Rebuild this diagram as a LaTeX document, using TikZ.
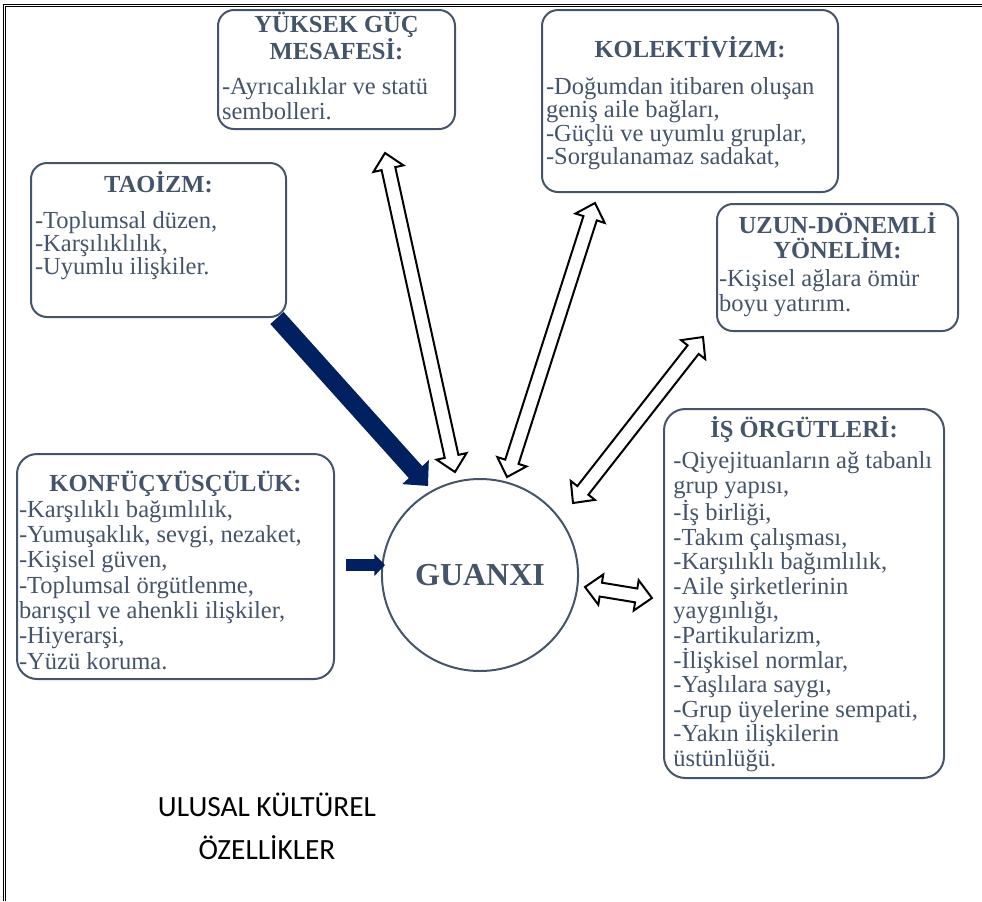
\documentclass[tikz,border=0pt]{standalone}
\usepackage{fontspec}
\setmainfont{Liberation Serif}
\newfontfamily\labelfont{Carlito}
\usetikzlibrary{calc,arrows.meta,positioning,shapes.geometric}

\definecolor{slate}{HTML}{44546A}
\definecolor{navyblue}{HTML}{002060}

\newcommand{\headlen}{12pt}
\newcommand{\headhalf}{11.5pt}
\newcommand{\shafthalf}{5.25pt}
% centred bold title, #1 = distance from box top to first baseline
\newcommand{\boxtitle}[2]{{\centering\bfseries\rule{0pt}{#1}#2\par}}
% hollow double arrow between two named coordinates
\newcommand{\hollowarrow}[2]{%
  \coordinate (h1) at ($(#1)!\headlen!(#2)$);
  \coordinate (h2) at ($(#2)!\headlen!(#1)$);
  \draw[hollow] (#1) -- ($(h1)!\headhalf!90:(#2)$) -- ($(h1)!\shafthalf!90:(#2)$)
    -- ($(h2)!\shafthalf!-90:(#1)$) -- ($(h2)!\headhalf!-90:(#1)$) -- (#2)
    -- ($(h2)!\headhalf!90:(#1)$) -- ($(h2)!\shafthalf!90:(#1)$)
    -- ($(h1)!\shafthalf!-90:(#2)$) -- ($(h1)!\headhalf!-90:(#2)$) -- cycle;}

\tikzset{
  cbox/.style={draw=slate, line width=1.5pt, rounded corners=12pt, inner xsep=3pt,
    inner ysep=0pt, anchor=north west, text=slate, font=\fontsize{18.4}{18.75}\selectfont},
  navyarrow/.style={draw=navyblue},
  hollow/.style={draw=black, fill=white, line width=1.5pt, line join=miter},
  frame/.style={draw=black, line width=0.8pt, double, double distance=0.8pt}
}

\begin{document}
\begin{tikzpicture}[x=0.75pt, y=-0.75pt]
    \useasboundingbox (0,0) rectangle (982,901);
    \draw[frame] (4.5,901) -- (4.5,5.5) -- (982,5.5);

    % Nodes
    \node[cbox] (yuksek) at (217,9) {\parbox[t][89.25pt][t]{171.75pt}{%
      \boxtitle{16.5pt}{YÜKSEK GÜÇ\\MESAFESİ:}\vspace{7.5pt}\raggedright
      -Ayrıcalıklar ve statü\\sembolleri.}};
    \node[cbox, font=\fontsize{18.4}{16.5}\selectfont] (kolektif) at (541,9) {\parbox[t][136.5pt][t]{216pt}{%
      \boxtitle{35.25pt}{KOLEKTİVİZM:}\vspace{11.25pt}\raggedright
      -Doğumdan itibaren oluşan\\geniş aile bağları,\\-Güçlü ve uyumlu gruplar,\\-Sorgulanamaz sadakat,}};
    \node[cbox, font=\fontsize{18.4}{17.25}\selectfont] (taoizm) at (30,162) {\parbox[t][115.5pt][t]{185.25pt}{%
      \boxtitle{21.75pt}{TAOİZM:}\vspace{9.75pt}\raggedright
      -Toplumsal düzen,\\-Karşılıklılık,\\-Uyumlu ilişkiler.}};
    \node[cbox, inner xsep=1.5pt] (uzun) at (716,203) {\parbox[t][95.25pt][t]{177.75pt}{%
      \boxtitle{21.75pt}{UZUN-DÖNEMLİ\\YÖNELİM:}\vspace{2.25pt}\raggedright
      -Kişisel ağlara ömür\\boyu yatırım.}};
    \node[cbox, inner xsep=1.5pt, rounded corners=15pt, font=\fontsize{18.4}{19}\selectfont] (konf) at (16,453) {\parbox[t][168.75pt][t]{234.75pt}{%
      \boxtitle{27.75pt}{KONFÜÇYÜSÇÜLÜK:}\vspace{0.5pt}\raggedright
      -Karşılıklı bağımlılık,\\-Yumuşaklık, sevgi, nezaket,\\-Kişisel güven,\\-Toplumsal örgütlenme,\\
      barışçıl ve ahenkli ilişkiler,\\-Hiyerarşi,\\-Yüzü koruma.}};
    \node[cbox, inner xsep=7pt, rounded corners=16pt, font=\fontsize{18.4}{18.45}\selectfont] (isorg) at (663,408) {\parbox[t][276.75pt][t]{196pt}{%
      \boxtitle{21pt}{İŞ ÖRGÜTLERİ:}\vspace{5.5pt}\raggedright
      -Qiyejituanların ağ tabanlı\\grup yapısı,\\-İş birliği,\\-Takım çalışması,\\-Karşılıklı bağımlılık,\\
      -Aile şirketlerinin\\yaygınlığı,\\-Partikularizm,\\-İlişkisel normlar,\\-Yaşlılara saygı,\\
      -Grup üyelerine sempati,\\-Yakın ilişkilerin\\üstünlüğü.}};
    \node[ellipse, draw=slate, line width=1.5pt, minimum width=146pt, minimum height=144pt,
      text=slate, font=\fontsize{24}{28}\selectfont\bfseries] (guanxi) at (480,575) {GUANXI};
    \node[font=\labelfont\fontsize{22}{32}\selectfont, align=center] (ulusal) at (267,826) {ULUSAL KÜLTÜREL\\ÖZELLİKLER};

    % Arrows
    \coordinate (tao-tail) at (277,318);
    \coordinate (tao-tip) at (428,486);
    \coordinate (konf-tail) at (346,565);
    \coordinate (konf-tip) at (385,565);
    \draw[navyarrow, line width=13.5pt, -{Triangle[length=14pt,width=26pt]}] (tao-tail) -- (tao-tip);
    \draw[navyarrow, line width=9pt, -{Triangle[length=8pt,width=16pt]}] (konf-tail) -- (konf-tip);

    \coordinate (yuksek-end) at (385,153);
    \coordinate (yuksek-guanxi) at (455,472);
    \coordinate (kolektif-end) at (595,203);
    \coordinate (kolektif-guanxi) at (507,477);
    \coordinate (uzun-end) at (703,337);
    \coordinate (uzun-guanxi) at (573,503);
    \coordinate (isorg-end) at (652,598);
    \coordinate (isorg-guanxi) at (585,587);
    \hollowarrow{yuksek-end}{yuksek-guanxi}
    \hollowarrow{kolektif-end}{kolektif-guanxi}
    \hollowarrow{uzun-end}{uzun-guanxi}
    \hollowarrow{isorg-end}{isorg-guanxi}
\end{tikzpicture}
\end{document}
